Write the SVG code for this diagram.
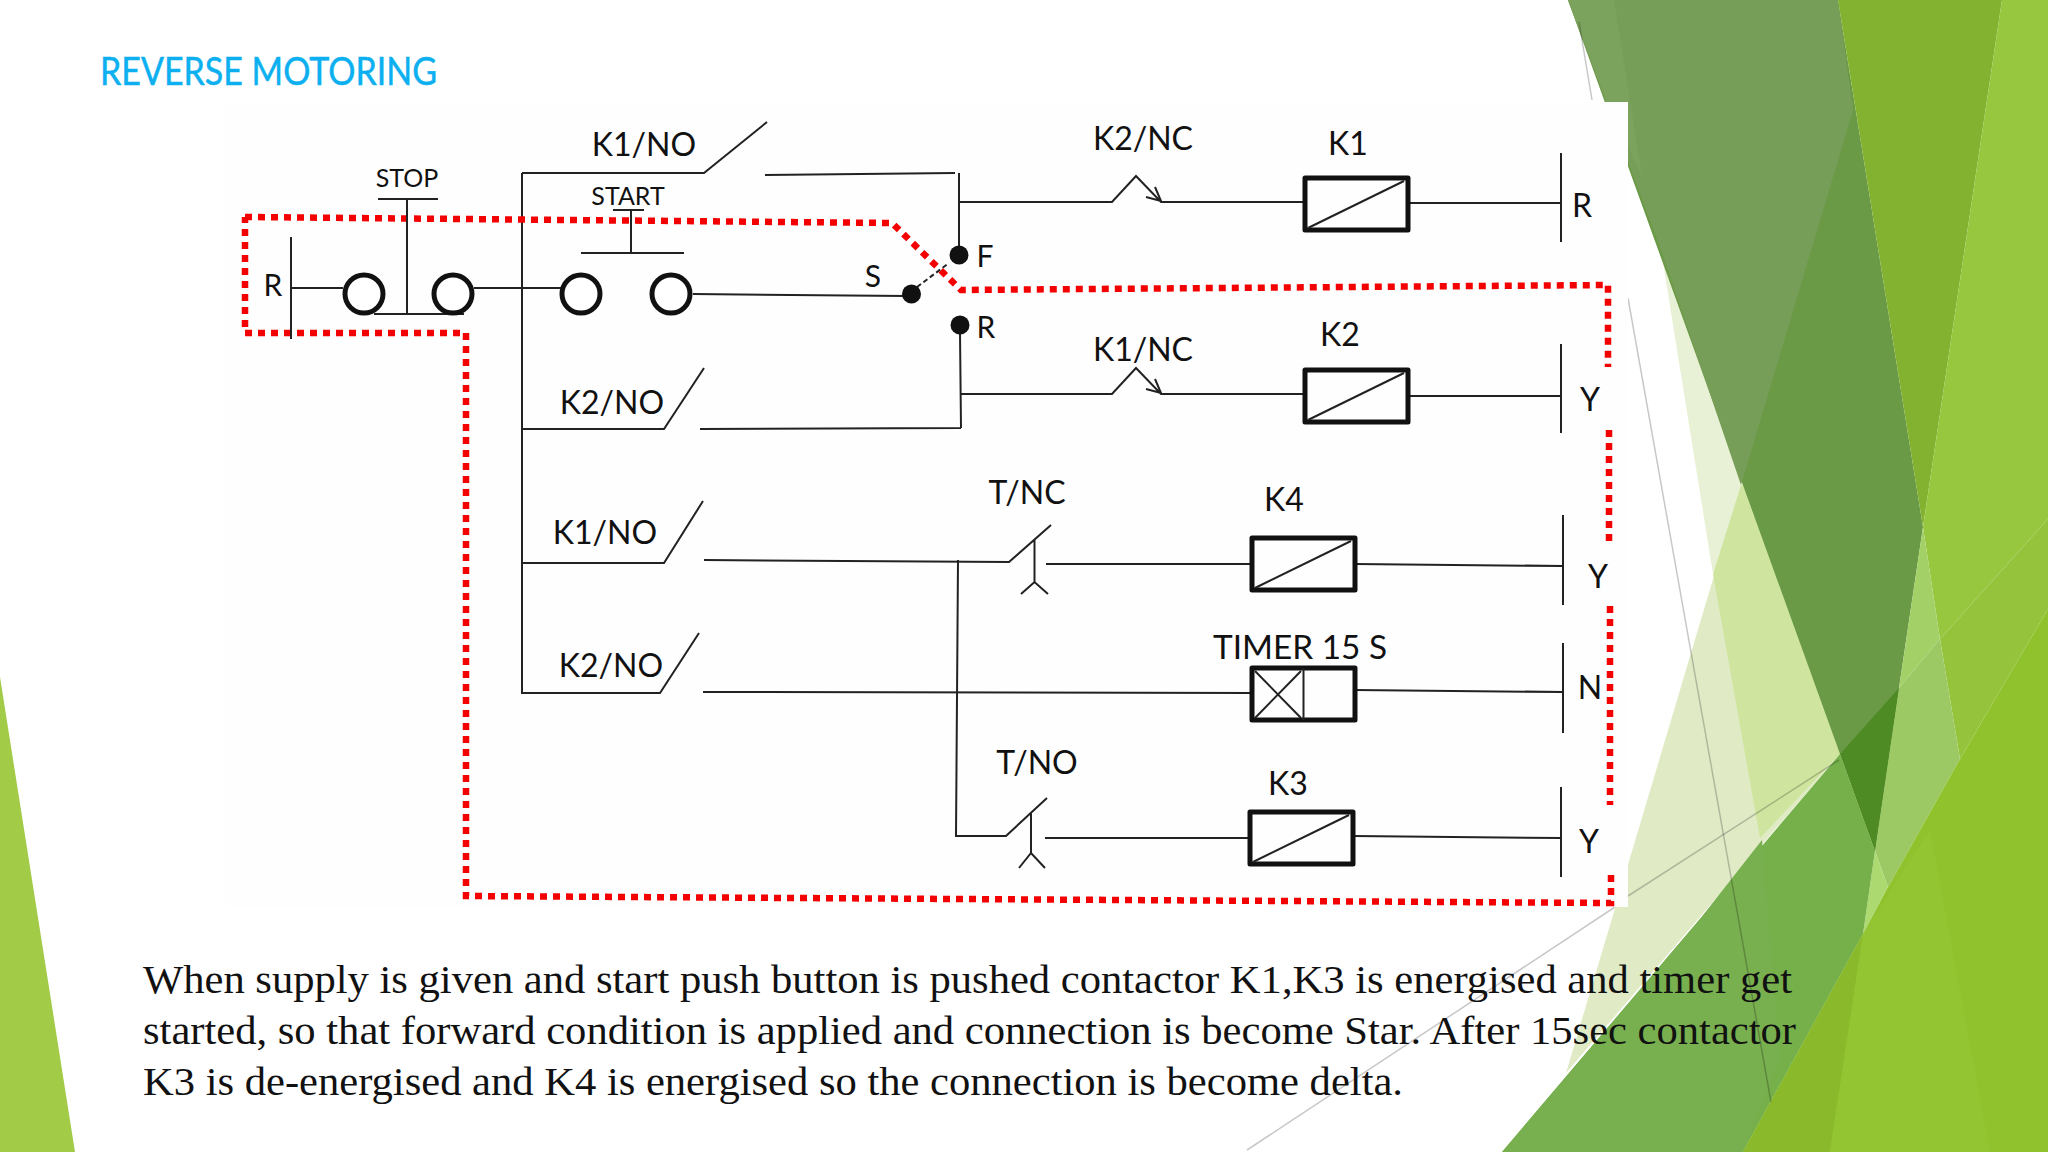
<svg xmlns="http://www.w3.org/2000/svg" width="2048" height="1152" viewBox="0 0 2048 1152">
<style>
.w{fill:none;stroke:#222;stroke-width:2}
.b{fill:none;stroke:#111;stroke-width:5;stroke-linejoin:round}
.c{fill:#fff;stroke:#111;stroke-width:5}
.d{fill:#111}
.r{fill:none;stroke:#F40000;stroke-width:6.5;stroke-dasharray:7 6}
.t{font-family:"Lato","Noto Sans",sans-serif;fill:#111;text-anchor:middle;font-size:32px}
.s{font-size:25px}
.m{font-size:30px}
.p{font-family:"Liberation Serif",serif;font-size:40.5px;fill:#111}
.g{fill:none;stroke:#000;stroke-opacity:.22;stroke-width:1.5}
</style>
<rect width="2048" height="1152" fill="#fff"/>
<g id="background">
<polygon points="0,677 75,1152 0,1152" fill="#A2CB48"/>
<polygon points="1661,250 1680,250 1750,485 1741,485 1713,574" fill="#E8F1D5"/>
<polygon points="1741,485 1750,485 1850,754 1840,754 1566,1073" fill="#E0EBC6"/>
<polygon points="1741,485 1750,485 1850,754 1840,754 1760,838 1713,574" fill="#CFE59F"/>
<polygon points="1568,0 1838,0 1923,527 1899,688 1875,851" fill="#6B9A47"/>
<polygon points="1568,0 1838,0 1853,110 1741,485 1661,250" fill="#779E58"/>
<polygon points="1568,0 1614,0 1642,176 1608,105" fill="#7BA35E"/>
<polygon points="1838,0 2002,0 1923,527" fill="#82B22F"/>
<polygon points="2002,0 2048,0 2048,519 1940,639 1923,527" fill="#97C63F"/>
<polygon points="1923,527 1940,639 1899,688" fill="#A4D068"/>
<polygon points="1940,639 2048,519 2048,609 1960,759" fill="#95C43C"/>
<polygon points="1940,639 1960,759 1888,887 1875,851 1899,688" fill="#9CC963"/>
<polygon points="1875,851 1888,887 1863,934" fill="#ACDA70"/>
<polygon points="1840,754 1899,688 1875,851" fill="#4F8B25"/>
<polygon points="1502,1152 1840,754 1875,851 1863,934 1743,1152" fill="#76B04A"/>
<polygon points="1502,1152 1700,919 1762,840 1780,1060 1743,1152" fill="#78AF4F"/>
<polygon points="1743,1152 1863,934 1888,887 1960,759 2048,609 2048,1152" fill="#90C22D"/>
<polygon points="1743,1152 1863,934 1830,1152" fill="#8ABA2C"/>
<polygon points="1863,934 1830,1152 1990,1152 1930,830" fill="#93C532"/>
<line class="g" x1="1579" y1="22" x2="1592" y2="100"/>
<line class="g" x1="1628" y1="298" x2="1771" y2="1102"/>
<line class="g" x1="1247" y1="1150" x2="1615" y2="907"/>
<line class="g" stroke-opacity=".15" x1="1628" y1="896" x2="1839" y2="760"/>
<rect x="225" y="102" width="1403" height="805" fill="#FEFEFE"/>
</g>
<text x="100" y="85" font-family="Lato,'Noto Sans',sans-serif" font-size="39" fill="#0CB0F0" stroke="#0CB0F0" stroke-width=".5" textLength="337" lengthAdjust="spacingAndGlyphs">REVERSE MOTORING</text>
<g id="connectors">
<path class="w" d="M291 288H343M374 314H464M474 288H563M522 173V693M522 173H704L767 122M765 175L955 173M959 173V250M693 294L906 296"/>
<path class="w" stroke-dasharray="5 3" d="M917 287L949 263"/>
<path class="w" d="M522 429H664L704 368M700 429L961 428M960 333L961 428"/>
<path class="w" d="M959 202H1112L1136 176L1161 202H1303M1146 197L1161 201L1155 187M1408 203H1561"/>
<path class="w" d="M960 394H1112L1136 368L1161 394H1303M1146 389L1161 393L1155 379M1408 396H1561"/>
<path class="w" d="M522 563H664L703 501M704 560L1009 562L1051 525M1034.5 540V582M1021 594L1034.5 582L1048 594M1046 564H1251M1355 564L1563 566"/>
<path class="w" d="M521 693H660L699 633M703 692L1252 693M1355 690L1563 692"/>
<path class="w" d="M958 560L956 836H1006L1047 798M1031 813V853M1019 868L1031 853L1045 868M1045 838H1249M1354 836L1562 838"/>
<path class="r" d="M245 217L892 223L961 290L1608 285V367"/>
<path class="r" d="M1609 430V544M1610 606V805M1611 875V903L466 896V333H245V217"/>
</g>
<g id="node-supply-R"><line class="w" x1="291" y1="237" x2="291" y2="339"/><text class="t m" x="273" y="296">R</text></g>
<g id="node-stop"><circle class="c" cx="364" cy="294" r="19"/><circle class="c" cx="453" cy="294" r="19"/><path class="w" d="M378 199H438M407 199V314"/><text class="t s" x="407" y="187">STOP</text></g>
<g id="node-start"><circle class="c" cx="581" cy="294" r="19"/><circle class="c" cx="671" cy="294" r="19"/><path class="w" d="M581 253H684M631 210V253M613 210H644"/><text class="t s" x="628" y="205">START</text></g>
<g id="node-selector"><circle class="d" cx="911.5" cy="294" r="9.5"/><circle class="d" cx="959" cy="255" r="9.5"/><circle class="d" cx="960" cy="325" r="9.5"/><text class="t m" x="873" y="287">S</text><text class="t m" x="985" y="267">F</text><text class="t m" x="986" y="338">R</text></g>
<g id="node-labels">
<text class="t" x="644" y="156">K1/NO</text>
<text class="t" x="612" y="414">K2/NO</text>
<text class="t" x="605" y="544">K1/NO</text>
<text class="t" x="611" y="677">K2/NO</text>
<text class="t" x="1143" y="150">K2/NC</text>
<text class="t" x="1143" y="361">K1/NC</text>
<text class="t" x="1027" y="504">T/NC</text>
<text class="t" x="1037" y="774">T/NO</text>
</g>
<g id="node-K1"><rect class="b" x="1305" y="178" width="103" height="52" fill="#fff"/><line class="w" x1="1308" y1="228" x2="1404" y2="181"/><text class="t" x="1348" y="155">K1</text></g>
<g id="node-K2"><rect class="b" x="1305" y="370" width="103" height="52" fill="#fff"/><line class="w" x1="1308" y1="420" x2="1404" y2="373"/><text class="t" x="1320" y="346" style="text-anchor:start">K2</text></g>
<g id="node-K4"><rect class="b" x="1252" y="538" width="103" height="52" fill="#fff"/><line class="w" x1="1255" y1="588" x2="1351" y2="541"/><text class="t" x="1284" y="511">K4</text></g>
<g id="node-timer"><rect class="b" x="1252" y="668" width="103" height="52" fill="#fff"/><path class="w" d="M1303.5 668V720M1255 671L1301 718M1301 671L1255 718"/><text class="t" x="1300" y="659" textLength="174" lengthAdjust="spacingAndGlyphs">TIMER 15 S</text></g>
<g id="node-K3"><rect class="b" x="1250" y="812" width="103" height="52" fill="#fff"/><line class="w" x1="1253" y1="862" x2="1349" y2="815"/><text class="t" x="1288" y="795">K3</text></g>
<g id="node-rails">
<line class="w" x1="1561" y1="153" x2="1561" y2="242"/><text class="t" x="1582" y="217">R</text>
<line class="w" x1="1561" y1="344" x2="1561" y2="433"/><text class="t" x="1590" y="411">Y</text>
<line class="w" x1="1563" y1="515" x2="1563" y2="605"/><text class="t" x="1598" y="588">Y</text>
<line class="w" x1="1563" y1="643" x2="1563" y2="733"/><text class="t" x="1590" y="699">N</text>
<line class="w" x1="1561" y1="787" x2="1561" y2="877"/><text class="t" x="1589" y="853">Y</text>
</g>
<g id="description">
<text class="p" x="143" y="993" textLength="1649" lengthAdjust="spacingAndGlyphs">When supply is given and start push button is pushed contactor K1,K3 is energised and timer get</text>
<text class="p" x="143" y="1044" textLength="1653" lengthAdjust="spacingAndGlyphs">started, so that forward condition is applied and connection is become Star. After 15sec contactor</text>
<text class="p" x="143" y="1095" textLength="1260" lengthAdjust="spacingAndGlyphs">K3 is de-energised and K4 is energised so the connection is become delta.</text>
</g>
</svg>
